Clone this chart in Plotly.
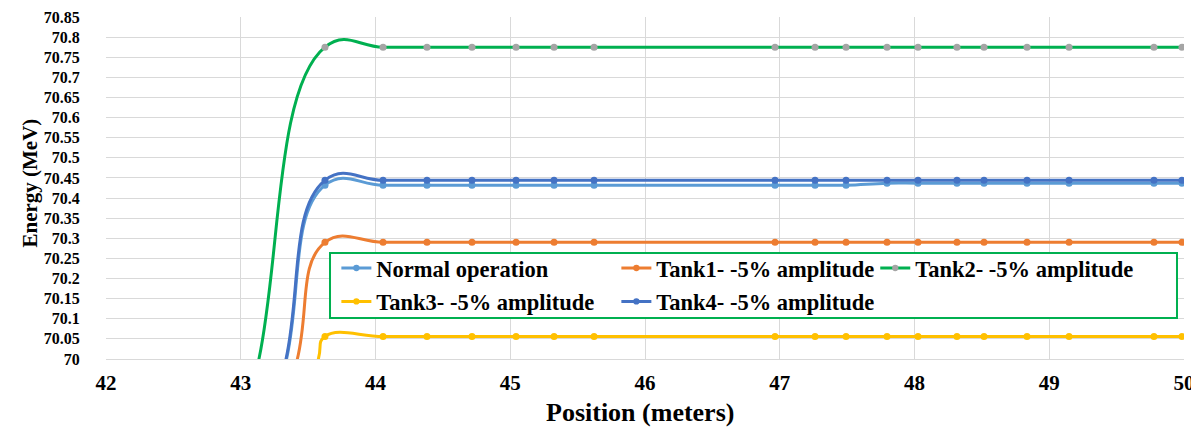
import plotly.graph_objects as go

# ---- data ----
# sampled positions (m) on the plateau, shared by all series
positions = [43.625, 44.056, 44.382, 44.716, 45.043, 45.325, 45.622,
             46.965, 47.262, 47.492, 47.796, 48.026, 48.315, 48.516, 48.835,
             49.147, 49.777, 49.985]

# rising edge before the plateau (un-marked in the source): one point below the
# visible range and the 70 MeV crossing
normal_lead_pos = [43.142, 43.340]
normal_lead_e = [69.70, 70.00]
tank1_lead_pos = [43.205, 43.420]
tank1_lead_e = [69.70, 70.00]
tank2_lead_pos = [42.945, 43.135]
tank2_lead_e = [69.70, 70.00]
tank3_lead_pos = [43.345, 43.576]
tank3_lead_e = [69.70, 70.00]
tank4_lead_pos = [43.140, 43.336]
tank4_lead_e = [69.70, 70.00]

normal_op = [70.432, 70.432, 70.432, 70.432, 70.432, 70.432, 70.432,
             70.432, 70.432, 70.432, 70.437, 70.437, 70.437, 70.437, 70.437,
             70.437, 70.437, 70.437]
tank1 = [70.29] * 18
tank2 = [70.775] * 18
tank3 = [70.056] * 18
tank4 = [70.444] * 18

series_names = ["Normal operation", "Tank1- -5% amplitude", "Tank2- -5% amplitude",
                "Tank3- -5% amplitude", "Tank4- -5% amplitude"]
series_values = [normal_op, tank1, tank2, tank3, tank4]
lead_positions = [normal_lead_pos, tank1_lead_pos, tank2_lead_pos,
                  tank3_lead_pos, tank4_lead_pos]
lead_energies = [normal_lead_e, tank1_lead_e, tank2_lead_e,
                 tank3_lead_e, tank4_lead_e]

x_ticks = [42, 43, 44, 45, 46, 47, 48, 49, 50]
x_ticktext = ["42", "43", "44", "45", "46", "47", "48", "49", "50"]
y_ticks = [70 + 0.05 * i for i in range(18)]
y_ticktext = ["70", "70.05", "70.1", "70.15", "70.2", "70.25", "70.3", "70.35",
              "70.4", "70.45", "70.5", "70.55", "70.6", "70.65", "70.7", "70.75",
              "70.8", "70.85"]
x_title = "Position (meters)"
y_title = "Energy (MeV)"

# ---- styles ----
line_colors = ["#5b9bd5", "#ed7d31", "#00b050", "#ffc000", "#4472c4"]
marker_colors = ["#5b9bd5", "#ed7d31", "#a5a5a5", "#ffc000", "#4472c4"]
legend_ids = ["legend", "legend", "legend2", "legend3", "legend3"]

FONT = "Times New Roman, Liberation Serif, Tinos, serif"

fig = go.Figure()
for i, name in enumerate(series_names):
    xs = lead_positions[i] + positions
    ys = lead_energies[i] + series_values[i]
    # no marker drawn on the un-sampled rising edge
    sizes = [0] * len(lead_positions[i]) + [7] * len(positions)
    fig.add_trace(go.Scatter(
        x=xs, y=ys, name=name, mode="lines+markers", legend=legend_ids[i],
        line=dict(color=line_colors[i], width=3, shape="spline", smoothing=1.3),
        marker=dict(color=marker_colors[i], size=sizes, symbol="circle",
                    opacity=1, line=dict(width=0)),
    ))

legend_font = dict(family=FONT, size=22.5, color="black", weight="bold")
common_legend = dict(orientation="h", xanchor="left", yanchor="top",
                     bgcolor="rgba(0,0,0,0)", borderwidth=0,
                     font=legend_font, itemwidth=30)

# the page body adds an 8px offset, so margins are set 8px smaller on top/left
fig.update_layout(
    width=1199, height=427,
    margin=dict(l=98, r=23, t=9, b=76, autoexpand=False),
    plot_bgcolor="white", paper_bgcolor="white",
    font=dict(family=FONT, color="black", weight="bold"),
    showlegend=True,
    legend=dict(x=0.2137, y=0.3278, entrywidth=235, entrywidthmode="pixels",
                **common_legend),
    legend2=dict(x=0.7136, y=0.3278, **common_legend),
    legend3=dict(x=0.2137, y=0.2301, entrywidth=235, entrywidthmode="pixels",
                 **common_legend),
    shapes=[dict(
        type="rect", xref="paper", yref="paper",
        x0=0.2078, x1=0.9935, y0=0.1199, y1=0.3099,
        line=dict(color="#00b050", width=2), fillcolor="white", layer="above",
    )],
    annotations=[
        dict(text=x_title, xref="paper", yref="paper", x=0.4949, y=-0.155,
             xanchor="center", yanchor="middle", showarrow=False,
             font=dict(family=FONT, size=26, color="black", weight="bold")),
        dict(text=y_title, xref="paper", yref="paper", x=-0.0705, y=0.513,
             xanchor="center", yanchor="middle", showarrow=False, textangle=-90,
             font=dict(family=FONT, size=21, color="black", weight="bold")),
    ],
    xaxis=dict(
        range=[42, 50], tickvals=x_ticks, ticktext=x_ticktext, automargin=False,
        showgrid=True, gridcolor="#d9d9d9", gridwidth=1, zeroline=False,
        showline=True, linecolor="#d9d9d9", linewidth=1, ticks="",
        tickfont=dict(family=FONT, size=21, color="black", weight="bold"),
        ticklabelstandoff=5,
    ),
    yaxis=dict(
        range=[70, 70.85], tickvals=y_ticks, ticktext=y_ticktext, automargin=False,
        showgrid=True, gridcolor="#d9d9d9", gridwidth=1, zeroline=False,
        showline=False, ticks="outside", ticklen=22, tickcolor="rgba(0,0,0,0)",
        tickfont=dict(family=FONT, size=16, color="black", weight="bold"),
    ),
)

fig.write_html("out.html")
